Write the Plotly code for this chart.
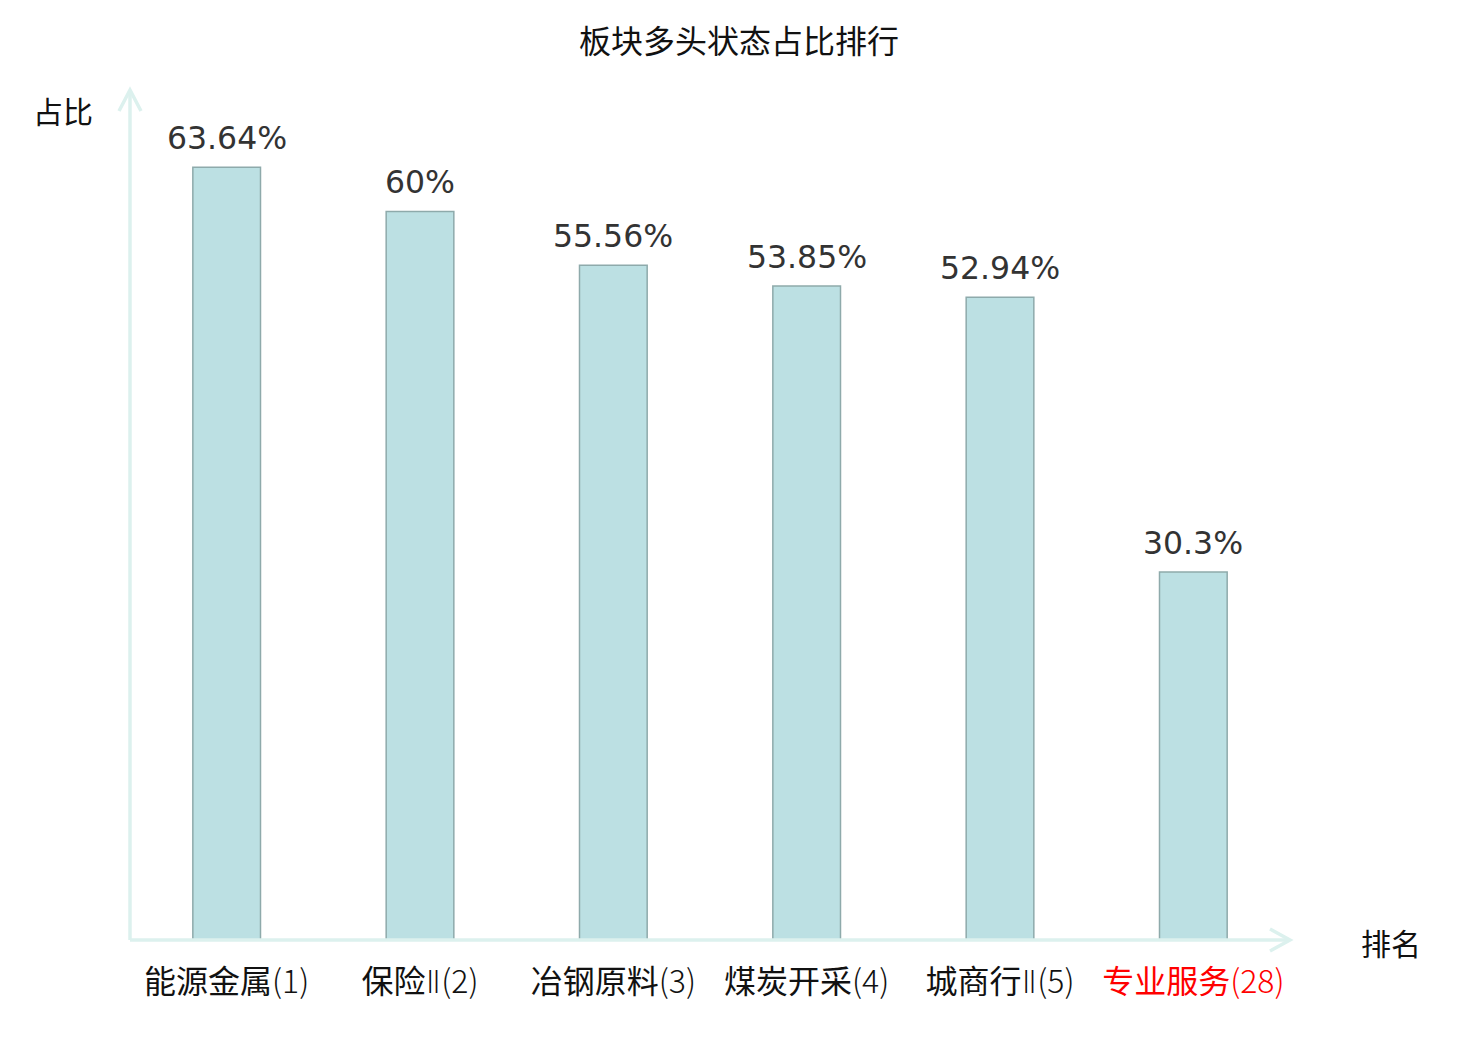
import re
import plotly.graph_objects as go

categories = ["能源金属(1)", "保险Ⅱ(2)", "冶钢原料(3)", "煤炭开采(4)", "城商行Ⅱ(5)", "专业服务(28)"]
values = [63.64, 60, 55.56, 53.85, 52.94, 30.3]
value_labels = ["63.64%", "60%", "55.56%", "53.85%", "52.94%", "30.3%"]
highlight = [False, False, False, False, False, True]

W, H = 1480, 1040
OFF = 8  # page body margin
ML, MT = 130 - OFF, 90 - OFF
PR, PB = 1290 - OFF, 940 - OFF
MR, MB = W - PR, H - PB
PW, PH = PR - ML, PB - MT


def styled(label, red):
    # lighter weight for the rank in brackets and the roman numeral, as in the reference
    s = re.sub(r"(\(\d+\))", r'<span style="font-weight:300">\1</span>', label)
    s = s.replace("Ⅱ", '<span style="font-weight:300;font-family:\'DejaVu Sans\'">Ⅱ</span>')
    if red:
        s = f'<span style="color:#ff0000">{s}</span>'
    return s


tick_text = [styled(c, h) for c, h in zip(categories, highlight)]

fig = go.Figure()
fig.add_trace(go.Bar(
    x=list(range(len(categories))), y=values, width=0.35,
    marker=dict(color="#bce0e3", line=dict(color="#8eaaab", width=1.5)),
    hoverinfo="skip",
))

for i, (v, t) in enumerate(zip(values, value_labels)):
    fig.add_annotation(x=i, y=v, text=t, showarrow=False, yanchor="bottom", xanchor="center", yshift=9,
                       font=dict(family="DejaVu Sans", size=31.5, color="#333333"))

axis_color = "#dcf1ee"
ax = 20 / PW
ay = 11 / PH
bx = 11 / PW
by = 21 / PH
shapes = [
    dict(type="line", xref="paper", yref="paper", x0=0, y0=0, x1=1, y1=0, line=dict(color=axis_color, width=3.5)),
    dict(type="line", xref="paper", yref="paper", x0=0, y0=0, x1=0, y1=1, line=dict(color=axis_color, width=3.5)),
    dict(type="path", xref="paper", yref="paper",
         path=f"M {1-ax},{ay} L 1,0 L {1-ax},{-ay}", line=dict(color=axis_color, width=3.5)),
    dict(type="path", xref="paper", yref="paper",
         path=f"M {-bx},{1-by} L 0,1 L {bx},{1-by}", line=dict(color=axis_color, width=3.5)),
]


def px_to_paper(sx, sy):
    return (sx - OFF - ML) / PW, (PB - (sy - OFF)) / PH


x1, y1 = px_to_paper(63, 110)
fig.add_annotation(xref="paper", yref="paper", x=x1, y=y1, xanchor="center", yanchor="middle", text="占比",
                   showarrow=False, font=dict(family="Noto Sans CJK SC", size=30, color="#111111"))
x2, y2 = px_to_paper(1391, 942)
fig.add_annotation(xref="paper", yref="paper", x=x2, y=y2, xanchor="center", yanchor="middle", text="排名",
                   showarrow=False, font=dict(family="Noto Sans CJK SC", size=30, color="#111111"))

fig.update_layout(
    width=W, height=H,
    margin=dict(l=ML, r=MR, t=MT, b=MB),
    paper_bgcolor="white", plot_bgcolor="white",
    showlegend=False,
    shapes=shapes,
    title=dict(text="板块多头状态占比排行", x=0.5 - 9 / W, xref="container", xanchor="center",
               y=1 - (42 - OFF) / H, yref="container", yanchor="middle",
               font=dict(family="Noto Sans CJK SC", size=32, color="#111111")),
    xaxis=dict(range=[-0.5, 5.5], tickvals=list(range(len(categories))), ticktext=tick_text,
               showgrid=False, zeroline=False, showline=False,
               ticks="outside", ticklen=14, tickcolor="rgba(0,0,0,0)",
               tickfont=dict(family="Noto Sans CJK SC", size=32, color="#111111"), fixedrange=True),
    yaxis=dict(range=[0, 70], showgrid=False, zeroline=False, showline=False, showticklabels=False,
               fixedrange=True),
)

fig.write_html("out.html")
